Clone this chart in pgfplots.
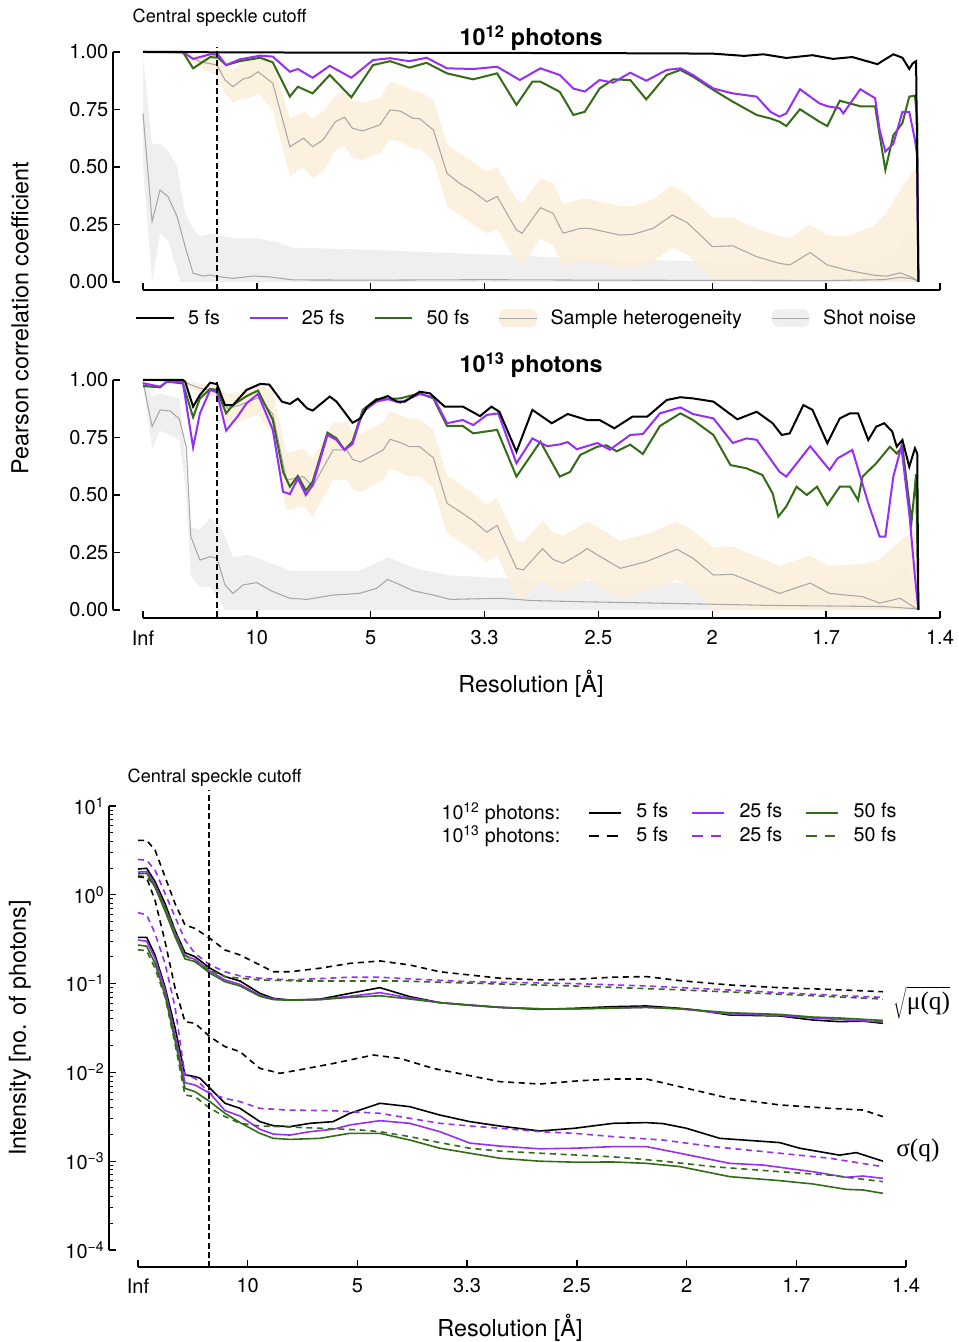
\documentclass[border=0pt]{standalone}
\usepackage{fontspec}
\setmainfont{TeX Gyre Heros}
\newfontfamily\seriffont{Liberation Serif}
\usepackage{pgfplots}
\pgfplotsset{compat=1.18}

\definecolor{cpurple}{HTML}{952EF8}
\definecolor{cgreen}{HTML}{346B17}
\definecolor{cbeige}{HTML}{FCEEDC}
\definecolor{clgray}{HTML}{EFEFEF}
\definecolor{cmean}{HTML}{A8A8A8}

\newcommand{\tickfont}{\fontsize{15}{18}\selectfont}
\newcommand{\labfont}{\fontsize{17.5}{21}\selectfont}
\newcommand{\legfont}{\fontsize{14.8}{17}\selectfont}

\pgfplotsset{
  corr/.style={
    scale only axis, width=597.75pt, height=172.5pt,
    xmin=0, xmax=0.7, ymin=0, ymax=1,
    axis lines=left, axis line style={-, line width=1pt},
    axis x line shift=6pt, axis y line shift=22.5pt,
    tick align=inside, major tick length=5pt, tick style={line width=1pt, black},
    xtick={0,0.1,0.2,0.3,0.4,0.5,0.6,0.7},
    ytick={0,0.25,0.5,0.75,1}, yticklabels={0.00,0.25,0.50,0.75,1.00},
    tick label style={font=\tickfont}, xticklabel style={yshift=-6pt},
    clip=false,
  },
  band/.style={draw=none, forget plot},
  meanline/.style={cmean, line width=0.8pt, forget plot},
  dline/.style={line width=1.5pt, forget plot},
}

\begin{document}
\begin{tikzpicture}
\useasboundingbox (0,0) rectangle (718.5pt,1006.5pt);

% ---------------- 10^12 photons ----------------
\begin{axis}[corr, at={(107.25pt,795pt)}, anchor=south west, xticklabels={},
  legend style={at={(0.482,-0.157)}, anchor=center, draw=none, fill=none,
    legend columns=5, font=\legfont,
    /tikz/every odd column/.append style={column sep=8pt},
    /tikz/every even column/.append style={column sep=20pt}},
  legend image code/.code={\draw[#1] (0pt,0pt) -- (28pt,0pt);}]
\addplot[band, fill=clgray] coordinates {
 (0,0.98)(0.008,0.6)(0.015,0.6)(0.022,0.57)(0.03,0.5)(0.037,0.3)(0.044,0.23)(0.05,0.2)(0.06,0.21)(0.08,0.19)(0.1,0.19)(0.12,0.17)(0.13,0.15)(0.2,0.14)(0.3,0.12)(0.4,0.1)(0.5,0.09)(0.6,0.08)(0.64,0.08)(0.66,0.12)(0.675,0.24)(0.68,0.1)
 (0.68,0)(0.033,0)(0.022,0.18)(0.015,0.21)(0.008,0)(0,0.5)} -- cycle;
\addplot[band, fill=cbeige, fill opacity=0.9] coordinates {
 (0,1.0)(0.035,1.0)(0.05,0.98)(0.065,0.98)(0.072,0.94)(0.079,0.92)(0.088,0.96)(0.094,0.97)(0.101,0.99)(0.114,0.96)(0.129,0.71)(0.141,0.74)(0.149,0.71)(0.158,0.74)(0.169,0.81)(0.177,0.83)(0.184,0.79)(0.193,0.78)(0.208,0.80)(0.217,0.87)(0.226,0.86)(0.237,0.83)(0.243,0.83)(0.255,0.79)(0.267,0.6)(0.278,0.56)(0.29,0.52)(0.302,0.48)(0.311,0.5)(0.328,0.36)(0.333,0.34)(0.349,0.45)(0.36,0.43)(0.369,0.34)(0.384,0.36)(0.392,0.36)(0.419,0.33)(0.43,0.33)(0.448,0.36)(0.465,0.42)(0.478,0.38)(0.5,0.28)(0.518,0.28)(0.539,0.23)(0.559,0.2)(0.568,0.19)(0.586,0.25)(0.601,0.2)(0.618,0.2)(0.641,0.24)(0.653,0.3)(0.665,0.4)(0.676,0.48)(0.68,0.5)
 (0.68,0)(0.518,0)(0.5,0.01)(0.478,0.12)(0.465,0.15)(0.448,0.09)(0.43,0.06)(0.419,0.06)(0.392,0.09)(0.384,0.09)(0.369,0.07)(0.36,0.16)(0.349,0.19)(0.333,0.07)(0.328,0.09)(0.311,0.23)(0.302,0.21)(0.29,0.25)(0.278,0.29)(0.267,0.33)(0.255,0.53)(0.243,0.58)(0.237,0.58)(0.226,0.61)(0.217,0.62)(0.208,0.56)(0.193,0.53)(0.184,0.54)(0.177,0.59)(0.169,0.57)(0.158,0.48)(0.149,0.45)(0.141,0.5)(0.129,0.46)(0.114,0.75)(0.101,0.82)(0.094,0.80)(0.088,0.80)(0.079,0.78)(0.072,0.82)(0.065,0.9)(0.05,0.93)(0.035,0.99)(0,1.0)} -- cycle;
\addplot[meanline] coordinates {
 (0,0.733)(0.008,0.262)(0.015,0.4)(0.022,0.371)(0.03,0.284)(0.037,0.154)(0.044,0.038)(0.053,0.026)(0.059,0.03)(0.068,0.022)(0.079,0.016)(0.097,0.026)(0.111,0.022)(0.132,0.009)(0.2,0.008)(0.3,0.01)(0.4,0.008)(0.5,0.007)(0.6,0.006)(0.65,0.01)(0.665,0.02)(0.675,0.015)(0.68,0.005)};
\addplot[meanline] coordinates {
 (0,1.0)(0.035,0.995)(0.05,0.958)(0.065,0.943)(0.072,0.878)(0.079,0.849)(0.088,0.883)(0.094,0.89)(0.101,0.914)(0.114,0.864)(0.129,0.588)(0.141,0.625)(0.149,0.588)(0.158,0.617)(0.169,0.697)(0.177,0.716)(0.184,0.668)(0.193,0.657)(0.208,0.683)(0.217,0.748)(0.226,0.743)(0.237,0.712)(0.243,0.71)(0.255,0.661)(0.267,0.473)(0.278,0.429)(0.29,0.393)(0.302,0.349)(0.311,0.372)(0.328,0.226)(0.333,0.212)(0.349,0.323)(0.36,0.299)(0.369,0.212)(0.384,0.233)(0.392,0.233)(0.419,0.204)(0.43,0.207)(0.448,0.233)(0.465,0.291)(0.478,0.258)(0.5,0.154)(0.518,0.157)(0.539,0.11)(0.559,0.081)(0.568,0.074)(0.586,0.128)(0.601,0.074)(0.618,0.052)(0.641,0.03)(0.653,0.025)(0.665,0.04)(0.676,0.019)(0.68,0.005)};
% 50 fs
\addplot[dline, cgreen] coordinates {
 (0,1.0)(0.035,1.0)(0.044,0.929)(0.059,0.978)(0.066,0.975)(0.073,0.943)(0.085,0.96)(0.103,0.975)(0.114,0.955)(0.129,0.806)(0.136,0.849)(0.149,0.82)(0.164,0.9)(0.183,0.803)(0.202,0.943)(0.217,0.96)(0.234,0.932)(0.249,0.953)(0.267,0.907)(0.29,0.881)(0.311,0.907)(0.328,0.77)(0.342,0.871)(0.349,0.871)(0.366,0.827)(0.378,0.726)(0.388,0.74)(0.401,0.841)(0.413,0.881)(0.428,0.878)(0.442,0.794)(0.46,0.9)(0.472,0.922)(0.483,0.893)(0.501,0.835)(0.518,0.784)(0.539,0.726)(0.551,0.711)(0.559,0.697)(0.565,0.678)(0.577,0.751)(0.594,0.697)(0.601,0.678)(0.612,0.788)(0.63,0.764)(0.643,0.764)(0.647,0.638)(0.652,0.487)(0.659,0.638)(0.667,0.691)(0.673,0.806)(0.678,0.81)(0.68,0.7)(0.681,0.0)};
% 25 fs
\addplot[dline, cpurple] coordinates {
 (0,1.0)(0.035,1.0)(0.044,0.97)(0.059,0.99)(0.066,0.988)(0.073,0.943)(0.085,0.968)(0.103,0.984)(0.114,0.98)(0.129,0.914)(0.136,0.926)(0.149,0.888)(0.164,0.94)(0.183,0.888)(0.202,0.965)(0.217,0.973)(0.234,0.96)(0.249,0.975)(0.267,0.929)(0.29,0.926)(0.311,0.936)(0.331,0.878)(0.349,0.929)(0.366,0.9)(0.378,0.841)(0.388,0.828)(0.401,0.878)(0.413,0.867)(0.428,0.91)(0.442,0.875)(0.46,0.922)(0.472,0.929)(0.483,0.9)(0.501,0.841)(0.518,0.82)(0.539,0.806)(0.551,0.74)(0.559,0.719)(0.565,0.733)(0.577,0.838)(0.594,0.777)(0.601,0.764)(0.612,0.755)(0.615,0.733)(0.63,0.838)(0.643,0.799)(0.647,0.661)(0.652,0.567)(0.659,0.6)(0.667,0.74)(0.673,0.74)(0.678,0.617)(0.68,0.545)(0.681,0.0)};
% 5 fs
\addplot[dline, black] coordinates {
 (0,1.0)(0.1,0.998)(0.2,0.997)(0.3,0.996)(0.4,0.995)(0.5,0.993)(0.528,0.983)(0.545,0.99)(0.565,0.974)(0.588,0.986)(0.606,0.97)(0.623,0.978)(0.645,0.947)(0.659,0.99)(0.667,0.975)(0.673,0.926)(0.676,0.95)(0.679,0.96)(0.681,0.0)};
\addplot[black, line width=1pt, dash pattern=on 4.5pt off 2.5pt, forget plot] coordinates {(0.065,-0.035)(0.065,1.023)};
\node[font=\bfseries\labfont] at (rel axis cs:0.487,1.061) {10\textsuperscript{12} photons};
\addlegendimage{black, line width=1.5pt}\addlegendentry{5 fs}
\addlegendimage{cpurple, line width=1.5pt}\addlegendentry{25 fs}
\addlegendimage{cgreen, line width=1.5pt}\addlegendentry{50 fs}
\addlegendimage{legend image code/.code={\fill[cbeige, rounded corners=5pt] (0pt,-6.5pt) rectangle (28pt,6.5pt); \draw[cmean, line width=0.8pt] (0pt,0pt) -- (28pt,0pt);}}\addlegendentry{Sample heterogeneity}
\addlegendimage{legend image code/.code={\fill[clgray, rounded corners=5pt] (0pt,-6.5pt) rectangle (28pt,6.5pt); \draw[cmean, line width=0.8pt] (0pt,0pt) -- (28pt,0pt);}}\addlegendentry{Shot noise}
\end{axis}

% ---------------- 10^13 photons ----------------
\begin{axis}[corr, at={(107.25pt,549pt)}, anchor=south west,
  xticklabels={Inf,10,5,3.3,2.5,2,1.7,1.4}]
\addplot[band, fill=clgray] coordinates {
 (0,1.0)(0.008,0.93)(0.015,0.94)(0.032,0.92)(0.037,0.67)(0.041,0.36)(0.05,0.35)(0.059,0.4)(0.068,0.37)(0.079,0.23)(0.092,0.24)(0.114,0.2)(0.13,0.17)(0.19,0.17)(0.215,0.23)(0.24,0.18)(0.27,0.15)(0.35,0.13)(0.45,0.12)(0.55,0.11)(0.62,0.1)(0.65,0.12)(0.67,0.2)(0.68,0.05)
 (0.68,0)(0.072,0)(0.065,0.06)(0.059,0.1)(0.05,0.1)(0.042,0.15)(0.038,0.5)(0.032,0.74)(0.015,0.78)(0.008,0.7)(0,0.98)} -- cycle;
\addplot[band, fill=cbeige, fill opacity=0.9] coordinates {
 (0,1.0)(0.035,1.0)(0.05,0.985)(0.065,0.975)(0.074,0.94)(0.085,0.95)(0.101,0.98)(0.114,0.95)(0.126,0.685)(0.141,0.70)(0.149,0.656)(0.167,0.816)(0.179,0.816)(0.184,0.775)(0.191,0.763)(0.202,0.792)(0.211,0.816)(0.217,0.862)(0.226,0.848)(0.234,0.83)(0.243,0.83)(0.255,0.782)(0.267,0.584)(0.278,0.549)(0.29,0.508)(0.302,0.458)(0.311,0.488)(0.328,0.301)(0.334,0.294)(0.351,0.387)(0.36,0.34)(0.369,0.323)(0.384,0.366)(0.39,0.387)(0.419,0.301)(0.442,0.33)(0.469,0.384)(0.483,0.345)(0.501,0.272)(0.518,0.275)(0.539,0.233)(0.559,0.192)(0.586,0.237)(0.603,0.192)(0.632,0.2)(0.647,0.22)(0.665,0.3)(0.68,0.36)
 (0.68,0)(0.501,0)(0.483,0.095)(0.469,0.134)(0.442,0.08)(0.419,0.051)(0.39,0.137)(0.384,0.116)(0.369,0.073)(0.36,0.09)(0.351,0.137)(0.334,0.044)(0.328,0.051)(0.311,0.238)(0.302,0.208)(0.29,0.258)(0.278,0.299)(0.267,0.334)(0.255,0.532)(0.243,0.58)(0.234,0.58)(0.226,0.598)(0.217,0.612)(0.211,0.566)(0.202,0.542)(0.191,0.513)(0.184,0.525)(0.179,0.566)(0.167,0.566)(0.149,0.406)(0.141,0.45)(0.126,0.435)(0.114,0.76)(0.101,0.85)(0.085,0.82)(0.074,0.81)(0.065,0.92)(0.05,0.94)(0.035,0.985)(0,1.0)} -- cycle;
\addplot[meanline] coordinates {
 (0,0.993)(0.008,0.797)(0.015,0.87)(0.024,0.865)(0.032,0.83)(0.038,0.707)(0.042,0.319)(0.05,0.217)(0.059,0.232)(0.065,0.225)(0.072,0.109)(0.079,0.072)(0.088,0.109)(0.1,0.119)(0.114,0.08)(0.129,0.051)(0.144,0.046)(0.167,0.065)(0.19,0.072)(0.205,0.094)(0.215,0.133)(0.226,0.109)(0.237,0.084)(0.255,0.065)(0.27,0.046)(0.313,0.051)(0.342,0.041)(0.384,0.036)(0.45,0.03)(0.55,0.02)(0.65,0.015)(0.68,0.005)};
\addplot[meanline] coordinates {
 (0,1.0)(0.035,0.993)(0.05,0.964)(0.065,0.952)(0.074,0.877)(0.085,0.89)(0.101,0.922)(0.114,0.852)(0.126,0.565)(0.141,0.58)(0.149,0.536)(0.167,0.696)(0.179,0.696)(0.184,0.655)(0.191,0.643)(0.202,0.672)(0.211,0.696)(0.217,0.742)(0.226,0.728)(0.234,0.71)(0.243,0.71)(0.255,0.662)(0.267,0.464)(0.278,0.429)(0.29,0.388)(0.302,0.338)(0.311,0.368)(0.328,0.181)(0.334,0.174)(0.351,0.267)(0.36,0.22)(0.369,0.203)(0.384,0.246)(0.39,0.267)(0.419,0.181)(0.442,0.21)(0.469,0.264)(0.483,0.225)(0.501,0.152)(0.518,0.155)(0.539,0.113)(0.559,0.072)(0.586,0.117)(0.603,0.072)(0.632,0.058)(0.647,0.03)(0.665,0.051)(0.68,0.003)};
% 50 fs
\addplot[dline, cgreen] coordinates {
 (0,0.974)(0.015,0.968)(0.021,0.993)(0.035,0.985)(0.044,0.838)(0.05,0.92)(0.059,0.961)(0.065,0.957)(0.073,0.855)(0.079,0.891)(0.091,0.93)(0.101,0.954)(0.114,0.826)(0.123,0.601)(0.129,0.536)(0.136,0.583)(0.143,0.519)(0.149,0.558)(0.162,0.771)(0.17,0.746)(0.177,0.696)(0.184,0.732)(0.193,0.87)(0.205,0.917)(0.215,0.917)(0.226,0.92)(0.243,0.942)(0.255,0.92)(0.267,0.8)(0.281,0.8)(0.29,0.768)(0.311,0.783)(0.328,0.58)(0.349,0.732)(0.366,0.58)(0.375,0.6)(0.384,0.674)(0.399,0.71)(0.407,0.716)(0.416,0.69)(0.428,0.719)(0.439,0.678)(0.454,0.8)(0.472,0.855)(0.483,0.826)(0.501,0.761)(0.516,0.63)(0.53,0.616)(0.544,0.587)(0.553,0.507)(0.558,0.406)(0.565,0.45)(0.574,0.536)(0.583,0.5)(0.592,0.536)(0.601,0.457)(0.612,0.536)(0.621,0.536)(0.628,0.478)(0.632,0.58)(0.644,0.638)(0.656,0.71)(0.662,0.68)(0.667,0.71)(0.675,0.384)(0.679,0.59)(0.681,0.0)};
% 25 fs
\addplot[dline, cpurple] coordinates {
 (0,0.986)(0.015,0.971)(0.021,0.993)(0.035,0.99)(0.044,0.707)(0.05,0.855)(0.059,0.957)(0.065,0.946)(0.073,0.78)(0.083,0.841)(0.091,0.899)(0.101,0.939)(0.114,0.783)(0.123,0.514)(0.129,0.504)(0.136,0.572)(0.143,0.5)(0.149,0.543)(0.162,0.761)(0.17,0.739)(0.177,0.696)(0.184,0.722)(0.193,0.862)(0.205,0.906)(0.215,0.917)(0.226,0.901)(0.243,0.939)(0.255,0.925)(0.267,0.812)(0.281,0.826)(0.29,0.804)(0.302,0.848)(0.312,0.855)(0.328,0.638)(0.342,0.746)(0.355,0.712)(0.366,0.72)(0.373,0.73)(0.381,0.699)(0.399,0.726)(0.41,0.697)(0.428,0.761)(0.439,0.765)(0.454,0.855)(0.472,0.881)(0.483,0.852)(0.501,0.833)(0.518,0.726)(0.53,0.746)(0.539,0.74)(0.559,0.601)(0.565,0.58)(0.586,0.712)(0.603,0.609)(0.61,0.659)(0.623,0.696)(0.637,0.464)(0.647,0.319)(0.652,0.319)(0.659,0.58)(0.666,0.71)(0.673,0.42)(0.678,0.145)(0.681,0.0)};
% 5 fs
\addplot[dline, black] coordinates {
 (0,1.0)(0.035,1.0)(0.037,0.993)(0.044,0.884)(0.05,0.935)(0.059,0.988)(0.065,0.982)(0.072,0.891)(0.079,0.891)(0.091,0.957)(0.103,0.983)(0.111,0.98)(0.122,0.906)(0.129,0.896)(0.136,0.919)(0.144,0.877)(0.149,0.867)(0.164,0.928)(0.17,0.906)(0.184,0.814)(0.191,0.833)(0.197,0.884)(0.205,0.913)(0.215,0.93)(0.223,0.906)(0.23,0.906)(0.243,0.949)(0.252,0.942)(0.265,0.884)(0.281,0.884)(0.296,0.843)(0.306,0.884)(0.313,0.862)(0.328,0.688)(0.342,0.87)(0.359,0.812)(0.373,0.852)(0.39,0.826)(0.401,0.826)(0.414,0.79)(0.43,0.841)(0.443,0.841)(0.46,0.913)(0.472,0.925)(0.483,0.92)(0.501,0.906)(0.522,0.829)(0.539,0.862)(0.553,0.812)(0.561,0.761)(0.568,0.768)(0.58,0.891)(0.588,0.87)(0.601,0.725)(0.612,0.833)(0.621,0.855)(0.628,0.855)(0.637,0.739)(0.644,0.797)(0.651,0.812)(0.658,0.776)(0.662,0.71)(0.667,0.739)(0.673,0.623)(0.678,0.703)(0.68,0.681)(0.681,0.0)};
\addplot[black, line width=1pt, dash pattern=on 4.5pt off 2.5pt, forget plot] coordinates {(0.065,-0.03)(0.065,0.993)};
\node[font=\bfseries\labfont] at (rel axis cs:0.487,1.065) {10\textsuperscript{13} photons};
\end{axis}

\node[rotate=90, font=\labfont] at (15pt,768pt) {Pearson correlation coefficient};
\node[font=\labfont] at (398.25pt,493.5pt) {Resolution [Å]};
\node[anchor=west, font=\fontsize{13.6}{16}\selectfont] at (96pt,993pt) {Central speckle cutoff};

% ---------------- intensities ----------------
\begin{axis}[scale only axis, width=576pt, height=333pt, at={(103.5pt,69pt)}, anchor=south west,
  xmin=0, xmax=0.7, ymode=log, ymin=1e-4, ymax=10,
  axis lines=left, axis line style={-, line width=1pt},
  axis x line shift=12.75pt, axis y line shift=21.75pt,
  tick align=inside, major tick length=5pt, minor tick length=3pt,
  tick style={line width=1pt, black}, minor tick style={line width=0.7pt},
  xtick={0,0.1,0.2,0.3,0.4,0.5,0.6,0.7}, xticklabels={Inf,10,5,3.3,2.5,2,1.7,1.4},
  ytick={1e-4,1e-3,1e-2,1e-1,1,10},
  yticklabels={10\textsuperscript{−4},10\textsuperscript{−3},10\textsuperscript{−2},10\textsuperscript{−1},10\textsuperscript{0},10\textsuperscript{1}},
  minor ytick={2e-4,3e-4,4e-4,5e-4,6e-4,7e-4,8e-4,9e-4,2e-3,3e-3,4e-3,5e-3,6e-3,7e-3,8e-3,9e-3,2e-2,3e-2,4e-2,5e-2,6e-2,7e-2,8e-2,9e-2,0.2,0.3,0.4,0.5,0.6,0.7,0.8,0.9,2,3,4,5,6,7,8,9},
  tick label style={font=\tickfont}, xticklabel style={yshift=-5pt},
  clip=false,
  legend style={at={(0.58,0.958)}, anchor=west, draw=none, fill=none,
    legend columns=3, font=\legfont, row sep=2pt,
    nodes={inner sep=1pt, text height=10.5pt, text depth=3pt},
    /tikz/every odd column/.append style={column sep=10pt},
    /tikz/every even column/.append style={column sep=16pt}},
  legend image code/.code={\draw[#1, line width=1.5pt] (0pt,0pt) -- (24pt,0pt);},
  every axis plot/.append style={line width=1.2pt},
  sd/.style={dash pattern=on 4.5pt off 3.5pt},
  ld/.style={dash pattern=on 8pt off 6pt}]
% sqrt(mu), 10^12
\addplot[black, forget plot] coordinates {(0,1.95)(0.0079,1.99)(0.0155,1.41)(0.0246,0.80)(0.0337,0.40)(0.0428,0.223)(0.0519,0.201)(0.0656,0.149)(0.0793,0.12)(0.093,0.107)(0.1111,0.0777)(0.1233,0.0682)(0.1385,0.0653)(0.1658,0.0668)(0.1931,0.0777)(0.2205,0.090)(0.2478,0.0713)(0.2751,0.061)(0.3024,0.0574)(0.3298,0.054)(0.3662,0.0513)(0.3981,0.0527)(0.433,0.055)(0.4634,0.056)(0.4938,0.0527)(0.5089,0.0505)(0.5393,0.0443)(0.5849,0.0432)(0.6152,0.0389)(0.6395,0.0373)(0.6608,0.0378)(0.679,0.0357)};
\addplot[cpurple, forget plot] coordinates {(0,1.8)(0.0079,1.83)(0.0155,1.3)(0.0246,0.72)(0.0337,0.37)(0.0428,0.205)(0.0519,0.188)(0.0656,0.138)(0.0793,0.11)(0.093,0.098)(0.1111,0.074)(0.1233,0.067)(0.1385,0.065)(0.1658,0.066)(0.1931,0.072)(0.2205,0.079)(0.2478,0.069)(0.2751,0.061)(0.3024,0.057)(0.3298,0.054)(0.3662,0.052)(0.3981,0.052)(0.433,0.053)(0.4634,0.054)(0.4938,0.052)(0.5393,0.0455)(0.5849,0.0438)(0.6152,0.041)(0.6395,0.0395)(0.679,0.037)};
\addplot[cgreen, forget plot] coordinates {(0,1.72)(0.0079,1.75)(0.0155,1.22)(0.0246,0.66)(0.0337,0.34)(0.0428,0.19)(0.0519,0.177)(0.0656,0.131)(0.0793,0.105)(0.093,0.094)(0.1111,0.072)(0.1233,0.066)(0.1385,0.065)(0.1658,0.066)(0.1931,0.07)(0.2205,0.073)(0.2478,0.067)(0.2751,0.061)(0.3024,0.057)(0.3298,0.054)(0.3662,0.052)(0.3981,0.052)(0.433,0.053)(0.4634,0.054)(0.4938,0.052)(0.5393,0.047)(0.5849,0.045)(0.6152,0.042)(0.6395,0.041)(0.679,0.0385)};
% sqrt(mu), 10^13
\addplot[black, sd, forget plot] coordinates {(0,4.1)(0.0079,4.1)(0.0155,3.2)(0.0246,1.6)(0.0337,0.8)(0.0428,0.457)(0.0519,0.419)(0.0656,0.323)(0.0793,0.239)(0.093,0.21)(0.1111,0.162)(0.1233,0.136)(0.1385,0.136)(0.1658,0.149)(0.1931,0.169)(0.2205,0.18)(0.2478,0.162)(0.2751,0.136)(0.3024,0.125)(0.3298,0.115)(0.3662,0.11)(0.3981,0.112)(0.433,0.118)(0.4634,0.12)(0.4938,0.108)(0.5393,0.0965)(0.5849,0.09)(0.6304,0.086)(0.679,0.081)};
\addplot[cpurple, sd, forget plot] coordinates {(0,2.5)(0.0079,2.45)(0.0155,1.9)(0.0246,1.04)(0.0337,0.567)(0.0428,0.31)(0.0519,0.219)(0.0656,0.162)(0.0793,0.136)(0.093,0.122)(0.1111,0.115)(0.1385,0.11)(0.1931,0.118)(0.2205,0.118)(0.2478,0.113)(0.3024,0.105)(0.3981,0.1)(0.4634,0.094)(0.539,0.0847)(0.6152,0.0757)(0.679,0.07)};
\addplot[cgreen, sd, forget plot] coordinates {(0,1.63)(0.0079,1.6)(0.0155,1.24)(0.0246,0.735)(0.0337,0.40)(0.0428,0.21)(0.0519,0.177)(0.0656,0.142)(0.0793,0.12)(0.093,0.115)(0.1111,0.11)(0.1476,0.107)(0.2387,0.107)(0.3298,0.099)(0.3981,0.094)(0.4938,0.085)(0.5849,0.076)(0.679,0.067)};
% sigma, 10^12
\addplot[black, forget plot] coordinates {(0,0.332)(0.0079,0.332)(0.0155,0.21)(0.0246,0.092)(0.0337,0.032)(0.0428,0.0094)(0.0519,0.00896)(0.0565,0.0086)(0.0656,0.00662)(0.0793,0.00449)(0.093,0.00394)(0.1111,0.00279)(0.1233,0.00251)(0.1385,0.00245)(0.1567,0.00267)(0.1779,0.00279)(0.1931,0.00346)(0.2205,0.00449)(0.2478,0.00411)(0.2751,0.00331)(0.3024,0.00279)(0.3298,0.00249)(0.3662,0.00219)(0.3981,0.00235)(0.433,0.00267)(0.4634,0.00272)(0.4786,0.00265)(0.4998,0.00235)(0.5302,0.00181)(0.5849,0.00162)(0.6031,0.0014)(0.6395,0.00117)(0.6547,0.00125)(0.679,0.001)};
\addplot[cpurple, forget plot] coordinates {(0,0.31)(0.0079,0.30)(0.0155,0.193)(0.0246,0.085)(0.0337,0.0264)(0.0428,0.00766)(0.0519,0.00721)(0.0656,0.00581)(0.0793,0.00371)(0.093,0.00323)(0.1111,0.00229)(0.1233,0.00202)(0.1385,0.00197)(0.1567,0.00215)(0.1779,0.00229)(0.1931,0.00256)(0.2205,0.00286)(0.2478,0.00267)(0.2751,0.00215)(0.3024,0.0016)(0.3298,0.00148)(0.3662,0.00138)(0.3981,0.0014)(0.433,0.00146)(0.4634,0.00146)(0.4938,0.00123)(0.5393,0.000946)(0.5697,0.000905)(0.6152,0.000762)(0.6456,0.000658)(0.6608,0.000681)(0.679,0.000641)};
\addplot[cgreen, forget plot] coordinates {(0,0.272)(0.0079,0.264)(0.0155,0.169)(0.0246,0.0744)(0.0337,0.0232)(0.0428,0.00662)(0.0519,0.00607)(0.0656,0.00468)(0.0793,0.00346)(0.093,0.00272)(0.1111,0.00206)(0.1233,0.00181)(0.1385,0.00176)(0.1658,0.00181)(0.1931,0.00206)(0.2205,0.00206)(0.2478,0.00173)(0.2751,0.0014)(0.3024,0.00123)(0.3298,0.00108)(0.3662,0.001)(0.3981,0.000975)(0.433,0.00098)(0.4634,0.000946)(0.4938,0.00087)(0.5393,0.00067)(0.5849,0.000604)(0.6152,0.000554)(0.6456,0.000482)(0.6608,0.000474)(0.679,0.000435)};
% sigma, 10^13
\addplot[black, sd, forget plot] coordinates {(0,1.6)(0.0079,1.55)(0.0155,0.87)(0.0246,0.3)(0.0337,0.09)(0.0428,0.0373)(0.0519,0.0357)(0.0656,0.0252)(0.0793,0.0195)(0.093,0.0171)(0.1111,0.0111)(0.1294,0.00977)(0.1476,0.0107)(0.1779,0.0126)(0.2144,0.0157)(0.2387,0.0144)(0.269,0.0111)(0.2994,0.00935)(0.3298,0.00787)(0.3662,0.0074)(0.4027,0.00806)(0.433,0.00843)(0.4634,0.00843)(0.4938,0.0069)(0.5393,0.0051)(0.5849,0.0043)(0.6304,0.00394)(0.6608,0.00377)(0.679,0.00318)};
\addplot[cpurple, sd, forget plot] coordinates {(0,0.63)(0.0079,0.593)(0.0155,0.368)(0.0246,0.169)(0.0337,0.055)(0.0428,0.00935)(0.0519,0.0086)(0.0656,0.00581)(0.0793,0.0051)(0.093,0.00468)(0.1111,0.00394)(0.1355,0.00377)(0.1779,0.0037)(0.2205,0.00346)(0.2478,0.00304)(0.2751,0.00267)(0.3024,0.00249)(0.3298,0.00235)(0.3662,0.00215)(0.3981,0.00206)(0.433,0.00189)(0.4786,0.00173)(0.5241,0.00146)(0.5849,0.00123)(0.6304,0.00108)(0.679,0.000868)};
\addplot[cgreen, sd, forget plot] coordinates {(0,0.24)(0.0079,0.235)(0.0155,0.149)(0.0246,0.0713)(0.0337,0.0212)(0.0428,0.00556)(0.0519,0.00532)(0.0656,0.00394)(0.0793,0.00318)(0.093,0.00267)(0.1111,0.00249)(0.1294,0.00245)(0.1658,0.00235)(0.2023,0.00225)(0.2205,0.00215)(0.2478,0.00189)(0.2751,0.00162)(0.3024,0.0014)(0.3298,0.0013)(0.372,0.00122)(0.433,0.00112)(0.479,0.001)(0.524,0.000868)(0.585,0.000762)(0.63,0.000698)(0.679,0.000588)};
\addplot[black, line width=1pt, dash pattern=on 4.5pt off 2.5pt, forget plot] coordinates {(0.0647,6.4e-5)(0.0647,15)};
\addlegendimage{black}\addlegendentry{5 fs}
\addlegendimage{cpurple}\addlegendentry{25 fs}
\addlegendimage{cgreen}\addlegendentry{50 fs}
\addlegendimage{black, ld}\addlegendentry{5 fs}
\addlegendimage{cpurple, ld}\addlegendentry{25 fs}
\addlegendimage{cgreen, ld}\addlegendentry{50 fs}
\end{axis}

\node[anchor=east, font=\legfont] at (423.75pt,396.75pt) {10\textsuperscript{12} photons:};
\node[anchor=east, font=\legfont] at (423.75pt,379.5pt) {10\textsuperscript{13} photons:};
\node[anchor=west, font=\fontsize{13.6}{16}\selectfont] at (92.25pt,423pt) {Central speckle cutoff};
\node[rotate=90, font=\labfont] at (15pt,235.5pt) {Intensity [no. of photons]};
\node[font=\labfont] at (382.5pt,10.5pt) {Resolution [Å]};
\node[anchor=west, inner sep=1pt, font=\fontsize{19}{22}\selectfont] at (669pt,254.25pt) {$\sqrt{\mbox{\seriffont μ(q)}}$};
\node[anchor=west, inner sep=1pt, font=\fontsize{19}{22}\selectfont] at (671pt,144pt) {\seriffont σ(q)};
\end{tikzpicture}
\end{document}
